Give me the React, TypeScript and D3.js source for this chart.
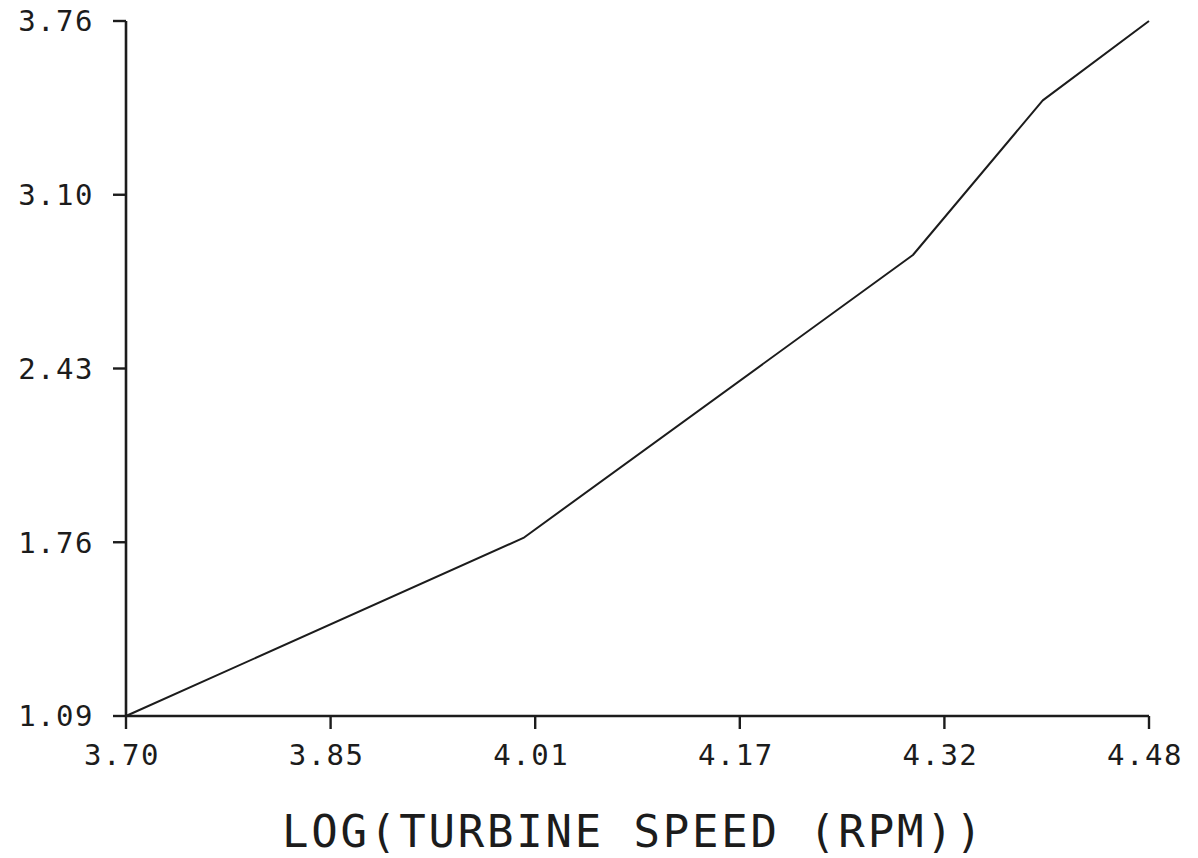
import React from "react";
import * as d3 from "d3";

const xTickLabels = ["3.70", "3.85", "4.01", "4.17", "4.32", "4.48"];
const yTickLabels = ["1.09", "1.76", "2.43", "3.10", "3.76"];
const logSpeed = [3.7, 4.003, 4.3, 4.399, 4.48];
const logValue = [1.09, 1.774, 2.861, 3.455, 3.76];
const xTitle = "LOG(TURBINE SPEED (RPM))";

const W = 1198;
const H = 858;
const left = 126;
const right = 1149;
const top = 21;
const bottom = 716;

export default function App() {
  const xMin = +xTickLabels[0];
  const xMax = +xTickLabels[xTickLabels.length - 1];
  const yMin = +yTickLabels[0];
  const yMax = +yTickLabels[yTickLabels.length - 1];
  const x = d3.scaleLinear().domain([xMin, xMax]).range([left, right]);
  const y = d3.scaleLinear().domain([yMin, yMax]).range([bottom, top]);
  const xTicks = xTickLabels.map((t, i) => ({
    label: t,
    v: xMin + ((xMax - xMin) * i) / (xTickLabels.length - 1),
  }));
  const yTicks = yTickLabels.map((t, i) => ({
    label: t,
    v: yMin + ((yMax - yMin) * i) / (yTickLabels.length - 1),
  }));
  const pts = logSpeed.map((s, i) => [s, logValue[i]] as [number, number]);
  const line = d3
    .line<[number, number]>()
    .x((d) => x(d[0]))
    .y((d) => y(d[1]));
  const ink = "#1c1c1c";
  const font = "'DejaVu Sans Mono', monospace";
  return (
    <svg
      width={W}
      height={H}
      style={{ position: "absolute", left: 0, top: 0, background: "#fff" }}
    >
      <rect x={0} y={0} width={W} height={H} fill="#fff" />
      {/* axes */}
      <line x1={left} y1={top} x2={left} y2={bottom} stroke={ink} strokeWidth={2.6} />
      <line x1={left} y1={bottom} x2={right} y2={bottom} stroke={ink} strokeWidth={2.4} />
      {yTicks.map((t) => (
        <g key={"y" + t.label}>
          <line x1={left - 13} x2={left} y1={y(t.v)} y2={y(t.v)} stroke={ink} strokeWidth={2.4} />
          <text
            x={94}
            y={y(t.v)}
            dy="0.36em"
            textAnchor="end"
            fontFamily={font}
            fontSize={29}
            letterSpacing={1.5}
            fill={ink}
          >
            {t.label}
          </text>
        </g>
      ))}
      {xTicks.map((t) => (
        <g key={"x" + t.label}>
          <line x1={x(t.v)} x2={x(t.v)} y1={bottom} y2={bottom + 13} stroke={ink} strokeWidth={2.4} />
          <text
            x={x(t.v) - 4}
            y={765}
            textAnchor="middle"
            fontFamily={font}
            fontSize={29}
            letterSpacing={1.5}
            fill={ink}
          >
            {t.label}
          </text>
        </g>
      ))}
      <path d={line(pts) || ""} fill="none" stroke={ink} strokeWidth={2} strokeLinejoin="round" />
      <text
        x={632}
        y={847}
        textAnchor="middle"
        fontFamily={font}
        fontSize={44}
        textLength={700}
        lengthAdjust="spacing"
        fill={ink}
      >
        {xTitle}
      </text>
    </svg>
  );
}
